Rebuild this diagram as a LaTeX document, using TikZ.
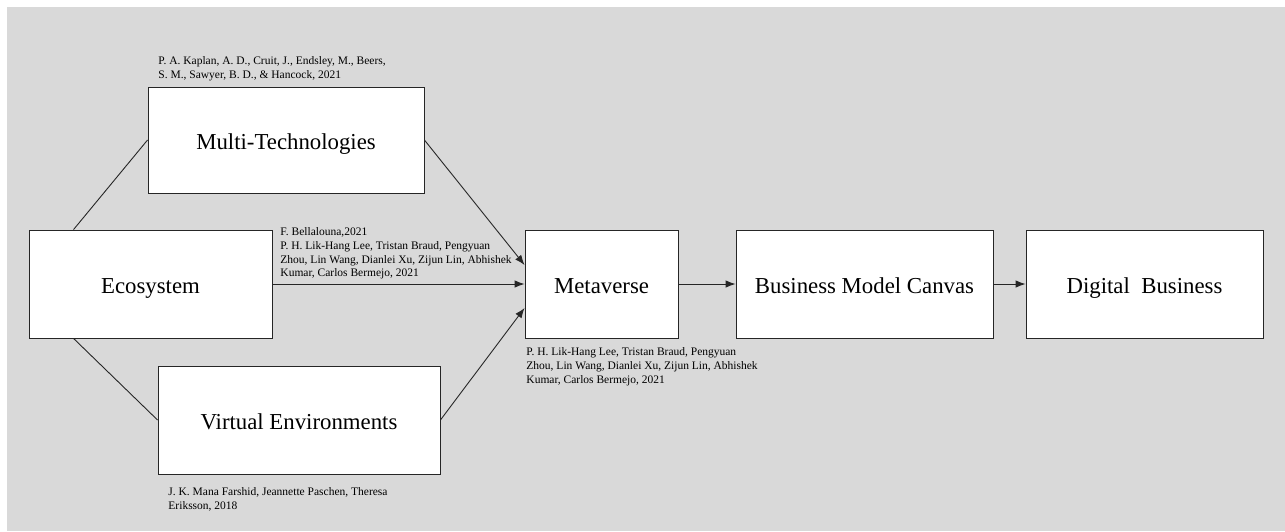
\documentclass[tikz,border=0pt]{standalone}
\usepackage{fontspec}
\setmainfont{Liberation Serif}
\usetikzlibrary{arrows.meta}
\definecolor{panel}{HTML}{D9D9D9}
\tikzset{
  box/.style={rectangle,draw=black!85,fill=white,line width=0.9pt,text height=23pt,text depth=5pt,font=\fontsize{22.8}{27}\selectfont},
  cite/.style={anchor=north west,align=left,inner sep=0pt,font=\fontsize{11.5}{13.8}\selectfont}
}
\begin{document}
\begin{tikzpicture}[x=1pt,y=-1pt,>={Latex[length=10pt,width=7.5pt]},line width=0.9pt]
\useasboundingbox (0,0) rectangle (1285,531);
\fill[panel] (7,7) rectangle (1285,531);
\node[box,minimum width=276pt,minimum height=106pt] (multi) at (286,140) {Multi-Technologies};
\node[cite] (kaplan) at (158,56) {P. A. Kaplan, A. D., Cruit, J., Endsley, M., Beers,\\S. M., Sawyer, B. D., \& Hancock, 2021};
\node[box,minimum width=243pt,minimum height=108pt] (eco) at (150.5,284) {Ecosystem};
\draw[black!85] ([xshift=45pt]eco.north west)--(multi.west);
\node[box,minimum width=282pt,minimum height=108pt] (virtual) at (299,420) {Virtual Environments};
\draw[black!85] ([xshift=45pt]eco.south west)--(virtual.west);
\node[cite] (farshid) at (168,487) {J. K. Mana Farshid, Jeannette Paschen, Theresa\\Eriksson, 2018};
\node[box,minimum width=153pt,minimum height=108pt] (meta) at (601.5,284) {Metaverse};
\draw[->,black!85] (multi.east)--([yshift=19pt]meta.west);
\draw[->,black!85] (eco.east)--(meta.west);
\draw[->,black!85] (virtual.east)--([yshift=-24pt]meta.west);
\node[cite] (bellalouna) at (280,227) {F. Bellalouna,2021\\P. H. Lik-Hang Lee, Tristan Braud, Pengyuan\\Zhou, Lin Wang, Dianlei Xu, Zijun Lin, Abhishek\\Kumar, Carlos Bermejo, 2021};
\node[cite] (lee) at (526,347) {P. H. Lik-Hang Lee, Tristan Braud, Pengyuan\\Zhou, Lin Wang, Dianlei Xu, Zijun Lin, Abhishek\\Kumar, Carlos Bermejo, 2021};
\node[box,minimum width=257pt,minimum height=108pt] (canvas) at (864.5,284) {Business Model Canvas};
\draw[->,black!85] (meta.east)--(canvas.west);
\node[box,minimum width=237pt,minimum height=108pt] (digital) at (1144.5,284) {Digital\ \ Business};
\draw[->,black!85] (canvas.east)--(digital.west);
\end{tikzpicture}
\end{document}
